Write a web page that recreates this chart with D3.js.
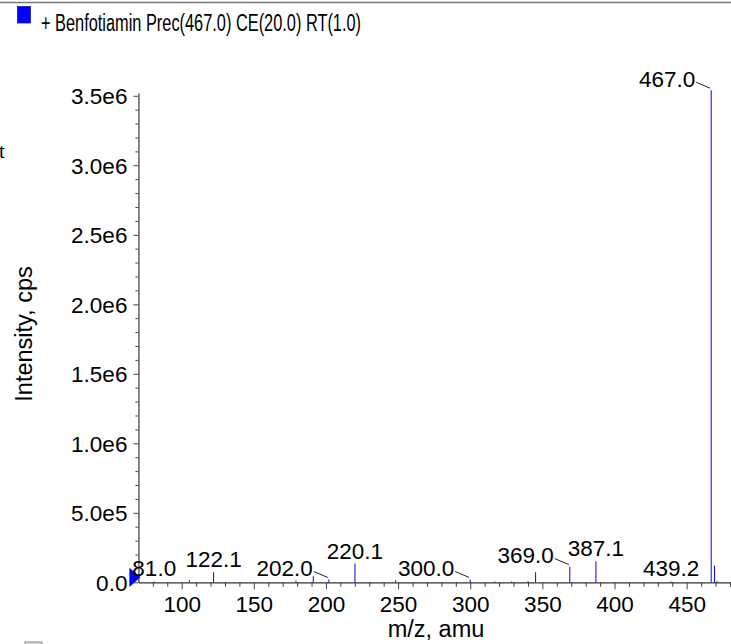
<!DOCTYPE html>
<html>
<head>
<meta charset="utf-8">
<script src="https://cdn.jsdelivr.net/npm/d3@7"></script>
<style>
  body { margin: 0; background: #fff; }
  text { font-family: "Liberation Sans", Arial, sans-serif; fill: #000; }
</style>
</head>
<body>
<div id="chart"></div>
<script>
// peaks (m/z, cps)
const mz = [81.0, 105.3, 122.1, 179.2, 191.2, 202.0, 220.1, 248.3, 300.0, 317.0, 328.7, 340.0, 345.3, 369.0, 387.1, 439.2, 467.0, 469.3, 471.0];
const intensity = [6e3, 1.5e4, 7.2e4, 1.2e4, 4.4e4, 2.0e4, 1.35e5, 1.5e4, 2.0e4, 6e3, 6e3, 8e3, 7.2e4, 1.13e5, 1.5e5, 6e3, 3.54e6, 1.2e5, 8e3];
const labelMz = [81.0, 122.1, 202.0, 220.1, 300.0, 369.0, 387.1, 439.2, 467.0];
const leaderMz = [202.0, 300.0, 369.0, 467.0];
const yTicks = [0, 5e5, 1e6, 1.5e6, 2e6, 2.5e6, 3e6, 3.5e6];
const yTickLabels = ["0.0", "5.0e5", "1.0e6", "1.5e6", "2.0e6", "2.5e6", "3.0e6", "3.5e6"];
const xTicks = [100, 150, 200, 250, 300, 350, 400, 450];
const legendText = "+ Benfotiamin Prec(467.0) CE(20.0) RT(1.0)";

const width = 731, height = 644;
const svg = d3.select("#chart")
  .append("svg")
  .attr("width", width)
  .attr("height", height);

const x = d3.scaleLinear().domain([70, 481]).range([138.4, 731.4]);
const y = d3.scaleLinear().domain([0, 3.52e6]).range([582.3, 93]);

// top border + legend
svg.append("line")
  .attr("x1", 0).attr("x2", width).attr("y1", 2.5).attr("y2", 2.5)
  .attr("stroke", "#777").attr("stroke-width", 1.5);

svg.append("rect")
  .attr("x", 17.5).attr("y", 6.5).attr("width", 13).attr("height", 16.5)
  .attr("fill", "#0000ff").attr("stroke", "#1a1a9a").attr("stroke-width", 0.8);

svg.append("text")
  .attr("x", 41).attr("y", 30.5)
  .attr("font-size", 23)
  .attr("textLength", 320)
  .attr("lengthAdjust", "spacingAndGlyphs")
  .text(legendText);

// cut-off bits at the edges of the original export
svg.append("text")
  .attr("x", -1).attr("y", 158)
  .style("font-family", "Liberation Serif")
  .attr("font-size", 21)
  .text("t");

svg.append("rect")
  .attr("x", 25).attr("y", 642).attr("width", 17).attr("height", 4)
  .attr("fill", "#ddd").attr("stroke", "#888").attr("stroke-width", 1);

// minor ticks
const yMinor = d3.range(0, 3.5e6 + 1, 1e5).filter(v => v % 5e5 !== 0);
const xMinor = d3.range(80, 481, 10).filter(v => v % 50 !== 0);

svg.append("g")
  .attr("transform", "translate(138.4,0)")
  .call(d3.axisLeft(y).tickValues(yMinor).tickSize(3).tickFormat(""))
  .call(g => g.select(".domain").remove())
  .call(g => g.selectAll("line").attr("stroke", "#444"));

svg.append("g")
  .attr("transform", "translate(0,582.3)")
  .call(d3.axisBottom(x).tickValues(xMinor).tickSize(4.5).tickFormat(""))
  .call(g => g.select(".domain").remove())
  .call(g => g.selectAll("line").attr("stroke", "#444"));

// major axes
const yAxis = svg.append("g")
  .attr("transform", "translate(138.4,0)")
  .call(d3.axisLeft(y).tickValues(yTicks).tickSize(5).tickSizeOuter(0).tickPadding(6)
    .tickFormat((d, i) => yTickLabels[i]));
yAxis.select(".domain").attr("stroke", "#6a6a6a").attr("stroke-width", 1.6);
yAxis.selectAll("line").attr("stroke", "#444");
yAxis.selectAll("text").attr("font-size", 22.5).attr("font-family", null).attr("dy", "0.36em");

const xAxis = svg.append("g")
  .attr("transform", "translate(0,582.3)")
  .call(d3.axisBottom(x).tickValues(xTicks).tickSize(7).tickSizeOuter(0).tickPadding(5));
xAxis.select(".domain").attr("stroke", "#333").attr("stroke-width", 1.3);
xAxis.selectAll("line").attr("stroke", "#444");
xAxis.selectAll("text").attr("font-size", 22.5).attr("font-family", null).attr("dy", "0.78em");

// axis titles
svg.append("text")
  .attr("x", 436).attr("y", 636.5)
  .attr("text-anchor", "middle")
  .attr("font-size", 23.5)
  .text("m/z, amu");

svg.append("text")
  .attr("transform", "translate(32,334) rotate(-90)")
  .attr("text-anchor", "middle")
  .attr("font-size", 23.5)
  .text("Intensity, cps");

// peaks
const peaks = mz.map((m, i) => ({mz: m, value: intensity[i]}));

svg.append("g")
  .selectAll("line")
  .data(peaks)
  .join("line")
  .attr("x1", d => x(d.mz)).attr("x2", d => x(d.mz))
  .attr("y1", y(0)).attr("y2", d => y(d.value))
  .attr("stroke", "#0000ff")
  .attr("stroke-width", 1);

// off-scale marker at the origin
svg.append("path")
  .attr("d", `M${x(70) - 9},${y(0) - 14.5} L${x(70) - 9},${y(0) + 4.7} L${x(70) + 2},${y(0) - 5} Z`)
  .attr("fill", "#0000ff");

// peak labels
const labelled = peaks.filter(d => labelMz.includes(d.mz));
const centred = labelled.filter(d => !leaderMz.includes(d.mz));
const leader = labelled.filter(d => leaderMz.includes(d.mz));

svg.append("g")
  .selectAll("text")
  .data(centred)
  .join("text")
  .attr("x", d => x(d.mz))
  .attr("y", d => y(d.value) - 5)
  .attr("text-anchor", "middle")
  .attr("font-size", 22.5)
  .text(d => d.mz.toFixed(1));

const lg = svg.append("g");
lg.selectAll("line")
  .data(leader)
  .join("line")
  .attr("x1", d => x(d.mz) - 1).attr("y1", d => y(d.value) - 2)
  .attr("x2", d => x(d.mz) - 15).attr("y2", d => y(d.value) - 8)
  .attr("stroke", "#222").attr("stroke-width", 1);
lg.selectAll("text")
  .data(leader)
  .join("text")
  .attr("x", d => x(d.mz) - 16)
  .attr("y", d => y(d.value) - 3.5)
  .attr("text-anchor", "end")
  .attr("font-size", 22.5)
  .text(d => d.mz.toFixed(1));
</script>
</body>
</html>
